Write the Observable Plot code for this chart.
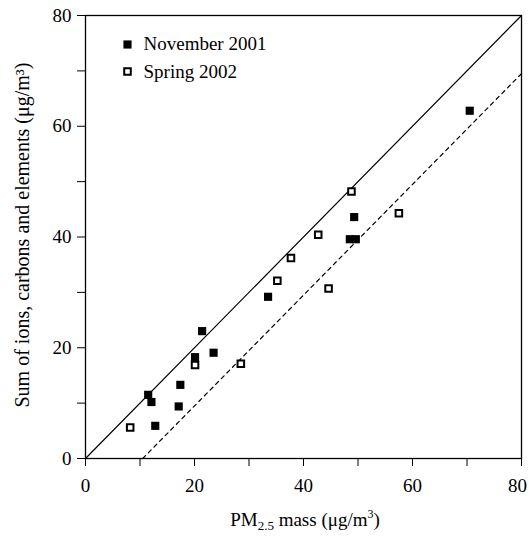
<!DOCTYPE html>
<html><head><meta charset="utf-8">
<script src="https://cdn.jsdelivr.net/npm/d3@7"></script>
<script src="https://cdn.jsdelivr.net/npm/@observablehq/plot@0.6"></script>
<style>body{margin:0;background:#fff}svg{display:block}</style>
</head><body><div id="chart"></div>
<script>
// November 2001 (filled squares)
const novX = [70.5, 49.3, 48.5, 49.6, 33.5, 21.4, 20.1, 23.5, 17.4, 11.5, 12.1, 17.1, 12.8];
const novY = [62.8, 43.6, 39.6, 39.6, 29.2, 23.0, 18.3, 19.1, 13.3, 11.5, 10.2, 9.4, 5.9];
// Spring 2002 (open squares)
const sprX = [48.8, 57.5, 42.7, 37.7, 35.2, 44.6, 20.1, 28.5, 8.2];
const sprY = [48.2, 44.3, 40.4, 36.2, 32.1, 30.7, 16.9, 17.1, 5.6];
// reference lines
const oneX = [0, 80], oneY = [0, 80];
const fitX = [10.5, 80], fitY = [0, 69.5];
const ticks = [0, 10, 20, 30, 40, 50, 60, 70, 80];
const tickLabels = [0, 20, 40, 60, 80];
const seriesNames = ["November 2001", "Spring 2002"];
const yLabel = "Sum of ions, carbons and elements (\u03bcg/m\u00b3)";

const font = "Liberation Serif, Times New Roman, serif";
const FS = 19;
const nov = novX.map((x, i) => ({x, y: novY[i]}));
const spr = sprX.map((x, i) => ({x, y: sprY[i]}));
const one = oneX.map((x, i) => ({x, y: oneY[i]}));
const fit = fitX.map((x, i) => ({x, y: fitY[i]}));
const fmt = d => tickLabels.includes(d) ? String(d) : "";
const lastLabel = tickLabels[tickLabels.length - 1];

const plot = Plot.plot({
  width: 529, height: 537,
  marginLeft: 85, marginRight: 8, marginTop: 15, marginBottom: 79,
  style: {fontFamily: font, fontSize: FS + "px", color: "black", background: "white"},
  x: {domain: [0, 80]},
  y: {domain: [0, 80]},
  marks: [
    Plot.line(one, {x: "x", y: "y", stroke: "black", strokeWidth: 1.2}),
    Plot.line(fit, {x: "x", y: "y", stroke: "black", strokeWidth: 1.2, strokeDasharray: "4,4"}),
    Plot.dot(nov, {x: "x", y: "y", symbol: "square", r: 4.6, fill: "black", stroke: "none"}),
    Plot.dot(spr, {x: "x", y: "y", symbol: "square", r: 3.7, fill: "white", stroke: "black", strokeWidth: 2}),
    Plot.axisX({ticks, tickSize: 8, tickPadding: 12, tickFormat: d => d === lastLabel ? "" : fmt(d), label: null, fontSize: FS}),
    Plot.axisX({ticks: [lastLabel], tickSize: 0, tickPadding: 20, dx: -4, tickFormat: fmt, label: null, fontSize: FS}),
    Plot.axisY({ticks, tickSize: 8, tickPadding: 6, tickFormat: fmt, label: null, fontSize: FS}),
    Plot.frame({stroke: "black", strokeWidth: 1.3}),
    // legend
    Plot.dot([seriesNames[0]], {frameAnchor: "top-left", dx: 42, dy: 29, symbol: "square", r: 4.6, fill: "black", stroke: "none"}),
    Plot.dot([seriesNames[1]], {frameAnchor: "top-left", dx: 42, dy: 56, symbol: "square", r: 3.7, fill: "white", stroke: "black", strokeWidth: 2}),
    Plot.text([seriesNames[0]], {text: d => d, frameAnchor: "top-left", dx: 58, dy: 28, textAnchor: "start", lineAnchor: "middle", fontSize: FS}),
    Plot.text([seriesNames[1]], {text: d => d, frameAnchor: "top-left", dx: 58, dy: 56, textAnchor: "start", lineAnchor: "middle", fontSize: FS}),
    // y-axis label
    Plot.text([yLabel], {text: d => d, frameAnchor: "left", dx: -63, dy: -2, rotate: -90, textAnchor: "middle", lineAnchor: "middle", fontSize: 20})
  ]
});
document.getElementById("chart").appendChild(plot);

// x-axis label with subscript/superscript
const svg = d3.select(plot);
const t = svg.append("text")
  .attr("x", 305).attr("y", 526)
  .attr("text-anchor", "middle")
  .attr("font-family", font).attr("font-size", FS).attr("fill", "black");
t.append("tspan").text("PM");
t.append("tspan").attr("font-size", 13).attr("dy", 4).text("2.5");
t.append("tspan").attr("dy", -4).text(" mass (\u03bcg/m");
t.append("tspan").attr("font-size", 12).attr("dy", -8).text("3");
t.append("tspan").attr("dy", 8).text(")");
</script>
</body></html>
